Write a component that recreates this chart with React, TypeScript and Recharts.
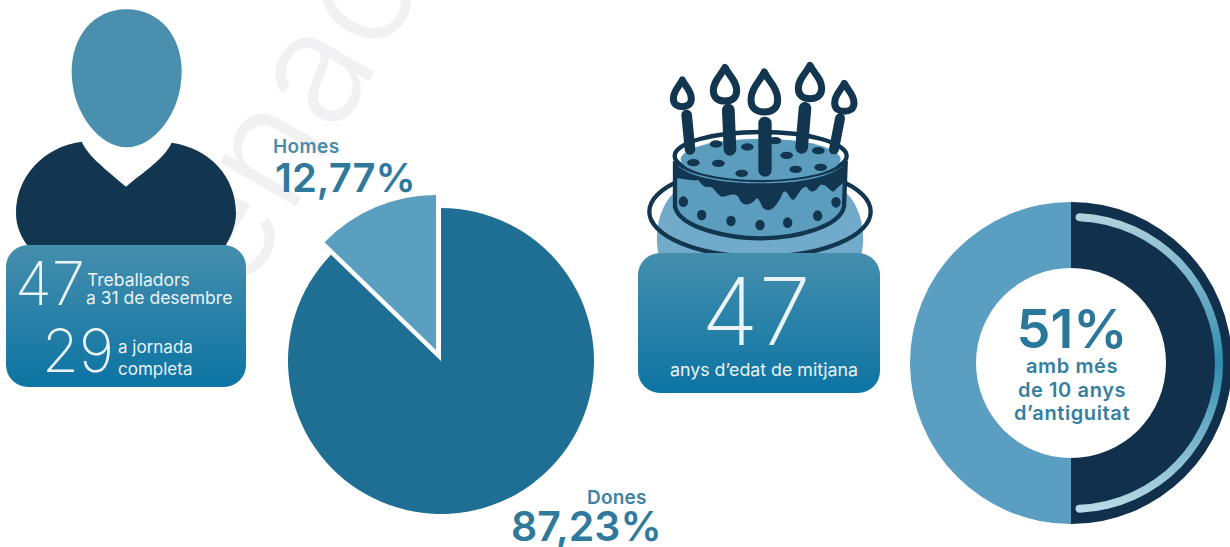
import { PieChart, Pie, Cell, Sector } from "recharts"

// values
const staffSplit = [
  { name: "Homes", value: 12.77 },
  { name: "Dones", value: 87.23 },
]
const seniorityShare = [
  { name: "Més de 10 anys", value: 50 },
  { name: "Menys de 10 anys", value: 50 },
]
const seniorityArc = [{ name: "arc", value: 100 }]

const staffColors = ["#5a9fbf", "#1f6f94"]
const seniorityColors = ["#10304c", "#5a9fc1"]

const W = 1230
const H = 547
const DARK = "#123550"
const SANS = "Inter, 'Open Sans', sans-serif"

// Homes is pulled out of the pie a bit
const explodedSlice = (props: any) => {
  const out = props.name === "Homes"
  return (
    <Sector
      {...props}
      cx={props.cx + (out ? -5 : 0)}
      cy={props.cy + (out ? -11 : 0)}
      outerRadius={props.outerRadius + (out ? 2 : 0)}
    />
  )
}

const flame = (cx: number, top: number, bottom: number, w: number) => {
  const r = w / 2
  return `M${cx} ${top} C${cx + r * 0.35} ${top + (bottom - top) * 0.25} ${cx + r} ${top + (bottom - top) * 0.4} ${cx + r} ${bottom - r * 0.9}
    C${cx + r} ${bottom - r * 0.2} ${cx + r * 0.5} ${bottom} ${cx} ${bottom}
    C${cx - r * 0.5} ${bottom} ${cx - r} ${bottom - r * 0.2} ${cx - r} ${bottom - r * 0.9}
    C${cx - r} ${top + (bottom - top) * 0.4} ${cx - r * 0.35} ${top + (bottom - top) * 0.25} ${cx} ${top}Z`
}

const candles = [
  [170, 195, 180, 298, 32],
  [295, 180, 300, 298, 38],
  [405, 220, 405, 360, 40],
  [525, 175, 515, 292, 38],
  [630, 205, 612, 298, 30],
]
const flames = [
  [157, 90, 170, 54],
  [285, 52, 153, 70],
  [403, 66, 186, 80],
  [540, 46, 146, 70],
  [643, 100, 184, 58],
]
const topDots = [[258, 282], [352, 291], [435, 272], [470, 316], [565, 302], [190, 338], [265, 340], [335, 370], [497, 358], [572, 352]]
const sideDots = [[160, 455], [215, 495], [303, 513], [390, 525], [473, 518], [563, 497], [618, 457]]

function Backdrop() {
  return (
    <svg width={W} height={H} style={{ position: "absolute", left: 0, top: 0 }}>
      <defs>
        <linearGradient id="card" x1="0" y1="0" x2="0" y2="1">
          <stop offset="0%" stopColor="#458ead" />
          <stop offset="100%" stopColor="#0d74a3" />
        </linearGradient>
      </defs>

      {/* watermark */}
      <text
        x={0}
        y={0}
        transform="translate(243 298) rotate(-60)"
        fontFamily={SANS}
        fontSize={160}
        fontWeight={300}
        fill="#f1f1f3"
      >
        enac
      </text>

      {/* person */}
      <g transform="scale(0.33333)">
        <path
          d="M380 28 C480 28 545 110 545 215 C545 340 460 442 380 442 C300 442 215 340 215 215 C215 110 280 28 380 28Z"
          fill="#4a8fad"
        />
        <path
          d="M48 640 C48 530 130 440 245 425 C265 470 320 510 378 560 C430 515 490 480 515 428 C630 445 708 530 708 640 C708 680 690 715 675 740 L85 740 C65 715 48 680 48 640Z"
          fill={DARK}
        />
      </g>
      <rect x={6} y={245} width={240} height={142} rx={22} fill="url(#card)" />

      {/* cake */}
      <g transform="translate(630 50) scale(0.33333)">
        <path d="M85 612 C75 560 80 480 130 430 L650 430 C700 480 705 560 695 612Z" fill="#72abc9" />
        <ellipse cx={390} cy={485} rx={332} ry={135} fill="none" stroke={DARK} strokeWidth={13} />
        <path
          d="M135 340 L135 470 C150 535 300 565 390 565 C500 565 630 530 642 470 L647 340Z"
          fill="#5c9dbe"
          stroke={DARK}
          strokeWidth={13}
        />
        <ellipse cx={392} cy={318} rx={258} ry={72} fill="#fff" stroke={DARK} strokeWidth={13} />
        <ellipse cx={392} cy={328} rx={240} ry={62} fill="#5c9dbe" />
        <path
          d="M130 335 C170 385 290 400 392 400 C500 400 610 385 652 335 L645 395 C630 405 620 415 610 425 C595 420 590 400 570 405 C555 430 540 430 530 410 C510 410 505 440 490 450 C475 445 475 420 460 425 C450 450 430 485 410 480 C390 475 395 450 380 445 C360 470 335 470 325 440 C310 425 295 440 275 440 C255 430 255 410 235 410 C225 415 215 405 205 390 C190 395 160 385 135 385Z"
          fill={DARK}
        />
        {candles.map(([x1, y1, x2, y2, w], i) => (
          <line key={i} x1={x1} y1={y1} x2={x2} y2={y2} stroke={DARK} strokeWidth={w} strokeLinecap="round" />
        ))}
        {flames.map(([cx, top, bottom, w], i) => (
          <path key={i} d={flame(cx, top, bottom, w)} fill="#fff" stroke={DARK} strokeWidth={21} strokeLinejoin="round" />
        ))}
        {topDots.map(([cx, cy], i) => (
          <ellipse key={i} cx={cx} cy={cy} rx={19} ry={11} fill={DARK} />
        ))}
        {sideDots.map(([cx, cy], i) => (
          <ellipse key={i} cx={cx} cy={cy} rx={14} ry={16} fill={DARK} />
        ))}
      </g>
      <rect x={638} y={253} width={242} height={140} rx={22} fill="url(#card)" />
    </svg>
  )
}

function Labels() {
  const white = { fill: "#eaf3f7", fontFamily: SANS }
  const bold = { fontFamily: SANS, fontWeight: 600 }
  const caption = { textAnchor: "middle" as const, fontSize: 20, letterSpacing: 0.6, fill: "#347f9f", ...bold }
  return (
    <svg width={W} height={H} style={{ position: "absolute", left: 0, top: 0 }}>
      <text x={15} y={305} fontSize={60} fontWeight={200} {...white}>47</text>
      <text x={87} y={286} fontSize={17.5} fontWeight={400} {...white}>Treballadors</text>
      <text x={86} y={304} fontSize={17.5} fontWeight={400} {...white}>a 31 de desembre</text>
      <text x={42} y={372} fontSize={60} fontWeight={200} {...white}>29</text>
      <text x={118} y={353} fontSize={17} fontWeight={400} {...white}>a jornada</text>
      <text x={118} y={375} fontSize={17} fontWeight={400} {...white}>completa</text>

      <text x={273} y={153} fontSize={19} letterSpacing={0.4} fill="#4a8bab" {...bold}>Homes</text>
      <text x={275} y={192} fontSize={40} fill="#2f7a9c" {...bold}>12,77%</text>
      <text x={587} y={504} fontSize={19} letterSpacing={0.2} fill="#3f83a4" {...bold}>Dones</text>
      <text x={511} y={541} fontSize={41} fill="#2f7a9c" {...bold}>87,23%</text>

      <text x={756} y={345} textAnchor="middle" fontSize={94} fontWeight={200} {...white}>47</text>
      <text x={764} y={376} textAnchor="middle" fontSize={17.8} fontWeight={400} {...white}>anys d’edat de mitjana</text>

      <text x={1072} y={348} textAnchor="middle" fontSize={54} fill="#2b7799" {...bold}>51%</text>
      <text x={1072} y={373} {...caption}>amb més</text>
      <text x={1072} y={397} {...caption}>de 10 anys</text>
      <text x={1072} y={420} {...caption}>d’antiguitat</text>
    </svg>
  )
}

export default function App() {
  return (
    <div style={{ position: "absolute", left: 0, top: 0, width: W, height: H, overflow: "hidden", background: "#fff" }}>
      <Backdrop />
      <div style={{ position: "absolute", left: 0, top: 0 }}>
        <PieChart width={W} height={H} margin={{ top: 0, right: 0, bottom: 0, left: 0 }}>
          <defs>
            <linearGradient id="arcGlow" x1="0" y1="0" x2="0" y2="1">
              <stop offset="0%" stopColor="#b4d3e0" />
              <stop offset="50%" stopColor="#2f8cb0" />
              <stop offset="100%" stopColor="#bcdbe8" />
            </linearGradient>
          </defs>
          <Pie
            data={staffSplit}
            dataKey="value"
            nameKey="name"
            cx={441}
            cy={361}
            outerRadius={153}
            startAngle={90}
            endAngle={450}
            stroke="none"
            shape={explodedSlice}
            isAnimationActive={false}
          >
            {staffSplit.map((d, i) => (
              <Cell key={d.name} fill={staffColors[i]} />
            ))}
          </Pie>
          <Pie
            data={seniorityShare}
            dataKey="value"
            nameKey="name"
            cx={1071}
            cy={363}
            innerRadius={95}
            outerRadius={161}
            startAngle={90}
            endAngle={-270}
            stroke="none"
            isAnimationActive={false}
          >
            {seniorityShare.map((d, i) => (
              <Cell key={d.name} fill={seniorityColors[i]} />
            ))}
          </Pie>
          <Pie
            data={seniorityArc}
            dataKey="value"
            cx={1073}
            cy={363}
            innerRadius={142}
            outerRadius={150}
            cornerRadius={4}
            startAngle={89}
            endAngle={-89}
            stroke="none"
            fill="url(#arcGlow)"
            isAnimationActive={false}
          />
        </PieChart>
      </div>
      <Labels />
    </div>
  )
}
